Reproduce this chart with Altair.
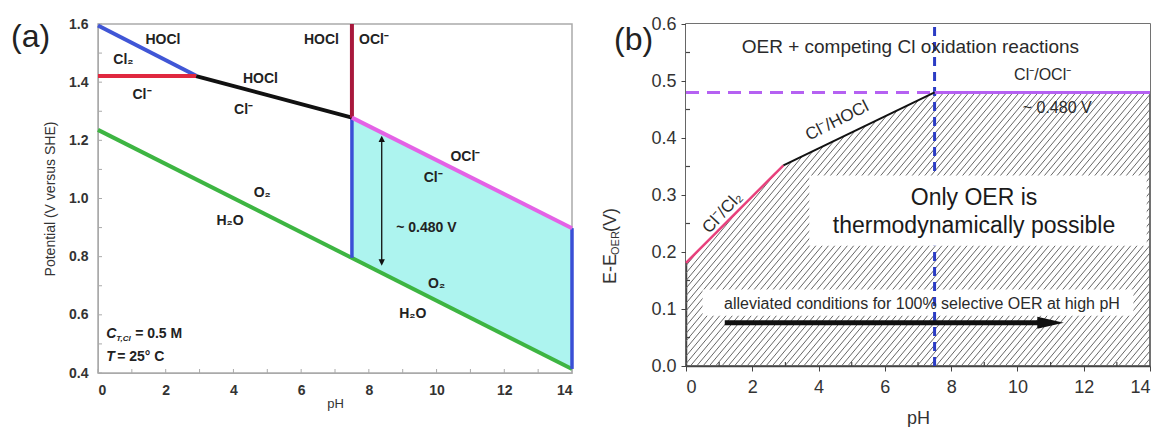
import altair as alt
import numpy as np
import pandas as pd

FONT = "Liberation Sans"

# ---------------- Panel (a): Pourbaix-type diagram ----------------
ph_cl2_hocl = [0.0, 2.9]
e_cl2_hocl = [1.595, 1.422]
ph_cl_cl2 = [0.0, 2.9]
e_cl_cl2 = [1.421, 1.421]
ph_cl_hocl = [2.9, 7.5]
e_cl_hocl = [1.421, 1.278]
ph_hocl_ocl = [7.5, 7.5]
e_hocl_ocl = [1.278, 1.6]
ph_cl_ocl = [7.5, 14.0]
e_cl_ocl = [1.278, 0.898]
ph_o2_h2o = [0.0, 14.0]
e_o2_h2o = [1.236, 0.414]
ph_window = [7.5, 14.0]
e_window_top = [1.278, 0.898]
e_window_bottom = [0.796, 0.414]
arrow_a_ph = 8.38
arrow_a_e = [0.78, 1.205]

labels_a_text = ["HOCl", "Cl\u2082", "Cl\u207b", "HOCl", "Cl\u207b", "HOCl", "OCl\u207b",
                 "OCl\u207b", "Cl\u207b", "O\u2082", "H\u2082O", "~ 0.480 V", "O\u2082", "H\u2082O"]
labels_a_ph = [1.92, 0.75, 1.3, 4.8, 4.3, 6.6, 8.15, 10.85, 9.9, 4.85, 3.9, 9.7, 10.0, 9.3]
labels_a_e = [1.545, 1.475, 1.355, 1.412, 1.303, 1.545, 1.545, 1.144, 1.07, 1.018, 0.921, 0.899, 0.705, 0.602]

minor_a_ph = [1, 3, 5, 7, 9, 11, 13]
minor_a_e = [0.5, 0.7, 0.9, 1.1, 1.3, 1.5]

# ---------------- Panel (b): E - E_OER vs pH ----------------
ph_b_cl2 = [0.0, 2.94]
e_b_cl2 = [0.181, 0.352]
ph_b_hocl = [2.94, 7.5]
e_b_hocl = [0.352, 0.48]
ph_b_ocl = [7.5, 14.0]
e_b_ocl = [0.48, 0.48]
ph_b_ref = [0.0, 7.5]
e_b_ref = [0.48, 0.48]
ph_b_pka = 7.5
ph_b_bound = [0.0, 2.94, 7.5, 14.0]
e_b_bound = [0.181, 0.352, 0.48, 0.48]
box_oer_ph = [3.72, 13.9]
box_oer_e = [0.211, 0.334]
band_ph = [0.5, 13.5]
band_e = [0.088, 0.134]
arrow_b_ph = [1.17, 11.0]
arrow_b_e = 0.076

minor_b_ph = [1, 3, 5, 7, 9, 11, 13]
minor_b_e = [0.05, 0.15, 0.25, 0.35, 0.45, 0.55]

# ---------------- helpers ----------------
def df(**kw):
    return pd.DataFrame(kw)

ax_a_x = alt.Axis(values=[0, 2, 4, 6, 8, 10, 12, 14], grid=False, ticks=False, labelPadding=10,
                  labelFont=FONT, labelFontSize=14, labelFontWeight="bold", labelColor="#333",
                  domainColor="#aaa", title="pH", titleFont=FONT, titleFontSize=13,
                  titleFontWeight="normal", titleColor="#333", titlePadding=0)
ax_a_y = alt.Axis(values=[0.4, 0.6, 0.8, 1.0, 1.2, 1.4, 1.6], format=".1f", grid=False, ticks=False,
                  labelPadding=10, labelFont=FONT, labelFontSize=14, labelFontWeight="bold",
                  labelColor="#333", domainColor="#aaa", title="Potential (V versus SHE)",
                  titleFont=FONT, titleFontSize=14, titleFontWeight="normal", titleColor="#333",
                  titlePadding=11)
sx_a = alt.Scale(domain=[0, 14], nice=False, zero=False)
sy_a = alt.Scale(domain=[0.4, 1.6], nice=False, zero=False)


def XA(f="ph"):
    return alt.X(f"{f}:Q", scale=sx_a, axis=ax_a_x)


def YA(f="e"):
    return alt.Y(f"{f}:Q", scale=sy_a, axis=ax_a_y)


def line_a(ph, e, color, w=4):
    return alt.Chart(df(ph=ph, e=e)).mark_line(color=color, strokeWidth=w, strokeCap="butt").encode(
        x=XA(), y=YA())


# invisible frame that fixes the panel's outer extent (layout helper)
bounds_a = alt.Chart(df(ph=[0.0])).mark_rect(opacity=0).encode(
    x=alt.value(-97), x2=alt.value(486), y=alt.value(-23), y2=alt.value(0))

ticks_a_x = alt.Chart(df(ph=[0, 1, 2, 3, 4, 5, 6, 7, 8, 9, 10, 11, 12, 13, 14])).mark_rule(
    color="#aaa", strokeWidth=1).encode(x=XA(), y=alt.value(349), y2=alt.value(345))
ticks_a_y = alt.Chart(df(e=[0.4, 0.5, 0.6, 0.7, 0.8, 0.9, 1.0, 1.1, 1.2, 1.3, 1.4, 1.5, 1.6])).mark_rule(
    color="#aaa", strokeWidth=1).encode(y=YA(), x=alt.value(0), x2=alt.value(4))

window = alt.Chart(df(ph=ph_window, top=e_window_top, bot=e_window_bottom)).mark_area(
    color="#adf4ef", opacity=1).encode(x=XA(), y=YA("top"), y2="bot:Q")

vert_blue = alt.Chart(df(ph=[ph_window[0], ph_window[1]], lo=[e_window_bottom[0], e_window_bottom[1]],
                         hi=[e_window_top[0], e_window_top[1]])).mark_rule(
    color="#3a4fd6", strokeWidth=3.5).encode(x=XA(), y=YA("lo"), y2="hi:Q")

arrow_a_line = alt.Chart(df(ph=[arrow_a_ph], lo=[arrow_a_e[0]], hi=[arrow_a_e[1]])).mark_rule(
    color="#111", strokeWidth=1.3).encode(x=XA(), y=YA("lo"), y2="hi:Q")
arrow_a_top = alt.Chart(df(ph=[arrow_a_ph], e=[arrow_a_e[1]])).mark_point(
    shape="M-1,1L0,-1L1,1Z", filled=True, color="#111", size=40, opacity=1).encode(x=XA(), y=YA())
arrow_a_bot = alt.Chart(df(ph=[arrow_a_ph], e=[arrow_a_e[0]])).mark_point(
    shape="M-1,-1L0,1L1,-1Z", filled=True, color="#111", size=40, opacity=1).encode(x=XA(), y=YA())

labels_a = alt.Chart(df(ph=labels_a_ph, e=labels_a_e, t=labels_a_text)).mark_text(
    font=FONT, fontSize=14, fontWeight="bold", color="#222").encode(x=XA(), y=YA(), text="t:N")

cond_anchor = df(ph=[0.24], e=[0.534])
cond_c = alt.Chart(cond_anchor).mark_text(text="C", align="left", font=FONT, fontSize=14,
                                          fontStyle="italic", fontWeight="bold", color="#222").encode(x=XA(), y=YA())
cond_sub = alt.Chart(cond_anchor).mark_text(text="T,Cl", align="left", dx=10, dy=5, font=FONT, fontSize=8,
                                            fontStyle="italic", fontWeight="bold", color="#222").encode(x=XA(), y=YA())
cond_rest = alt.Chart(cond_anchor).mark_text(text="= 0.5 M", align="left", dx=29, font=FONT, fontSize=14,
                                             fontWeight="bold", color="#222").encode(x=XA(), y=YA())
temp_anchor = df(ph=[0.24], e=[0.455])
temp_t = alt.Chart(temp_anchor).mark_text(text="T", align="left", font=FONT, fontSize=14,
                                          fontStyle="italic", fontWeight="bold", color="#222").encode(x=XA(), y=YA())
temp_rest = alt.Chart(temp_anchor).mark_text(text="= 25\u00b0 C", align="left", dx=11, font=FONT, fontSize=14,
                                             fontWeight="bold", color="#222").encode(x=XA(), y=YA())

tag_a = alt.Chart(df(ph=[0.0], e=[1.6])).mark_text(text="(a)", align="left", baseline="middle", font=FONT,
                                                   fontSize=32, color="#222").encode(
    x=alt.value(-87), y=alt.value(13))

panel_a = alt.layer(
    bounds_a,
    window,
    ticks_a_x, ticks_a_y,
    line_a(ph_o2_h2o, e_o2_h2o, "#3db542"),
    vert_blue,
    line_a(ph_cl2_hocl, e_cl2_hocl, "#4056d6"),
    line_a(ph_cl_cl2, e_cl_cl2, "#e0283f"),
    line_a(ph_cl_hocl, e_cl_hocl, "#111111"),
    line_a(ph_hocl_ocl, e_hocl_ocl, "#a8183c"),
    line_a(ph_cl_ocl, e_cl_ocl, "#e462e6"),
    arrow_a_line, arrow_a_top, arrow_a_bot,
    labels_a, cond_c, cond_sub, cond_rest, temp_t, temp_rest, tag_a,
).properties(width=474, height=349, view=alt.ViewBackground(stroke="#aaa", strokeWidth=1.5))

# ---------------- Panel (b) ----------------
ax_b_x = alt.Axis(values=[0, 2, 4, 6, 8, 10, 12, 14], grid=False, tickSize=5, tickColor="#444",
                  labelPadding=7, labelFont=FONT, labelFontSize=18, labelColor="#333",
                  domainColor="#444", domainWidth=1.5, title="pH", titleFont=FONT, titleFontSize=18,
                  titleFontWeight="normal", titleColor="#333", titlePadding=13)
ax_b_y = alt.Axis(values=[0.0, 0.1, 0.2, 0.3, 0.4, 0.5, 0.6], format=".1f", grid=False, tickSize=5,
                  tickColor="#444", labelPadding=5, labelFont=FONT, labelFontSize=18, labelColor="#333",
                  domainColor="#444", domainWidth=1.5, title="")
sx_b = alt.Scale(domain=[0, 14], nice=False, zero=False)
sy_b = alt.Scale(domain=[0, 0.6], nice=False, zero=False)


def XB(f="ph"):
    return alt.X(f"{f}:Q", scale=sx_b, axis=ax_b_x)


def YB(f="e"):
    return alt.Y(f"{f}:Q", scale=sy_b, axis=ax_b_y)


bounds_b = alt.Chart(df(ph=[0.0])).mark_rect(opacity=0).encode(
    x=alt.value(-100), x2=alt.value(0), y=alt.value(-23), y2=alt.value(0))

# hatching (decorative texture under the curve)
hatch_slope = 0.0697
hatch_step = 0.19
starts = np.arange(-0.6 / hatch_slope, 14.0, hatch_step)
hatch = alt.Chart(df(ph=starts, e=np.zeros_like(starts), ph2=starts + 0.6 / hatch_slope,
                     e2=np.full_like(starts, 0.6))).mark_rule(
    color="#666666", strokeWidth=1, clip=True).encode(x=XB(), y=YB(), x2="ph2:Q", y2="e2:Q")

cover = alt.Chart(df(ph=ph_b_bound, e=e_b_bound)).mark_area(color="white", opacity=1).encode(
    x=XB(), y=YB(), y2=alt.datum(0.6))

band = alt.Chart(df(ph=[band_ph[0]], ph2=[band_ph[1]], e=[band_e[0]], e2=[band_e[1]])).mark_rect(
    color="white", opacity=1).encode(x=XB(), x2="ph2:Q", y=YB(), y2="e2:Q")

pka = alt.Chart(df(ph=[ph_b_pka])).mark_rule(color="#2b3cc4", strokeWidth=3, strokeDash=[9, 6]).encode(
    x=XB(), y=alt.datum(0.0), y2=alt.datum(0.6))

box = alt.Chart(df(ph=[box_oer_ph[0]], ph2=[box_oer_ph[1]], e=[box_oer_e[0]], e2=[box_oer_e[1]])).mark_rect(
    color="white", opacity=1).encode(x=XB(), x2="ph2:Q", y=YB(), y2="e2:Q")

ticks_b_x = alt.Chart(df(ph=minor_b_ph)).mark_rule(color="#444", strokeWidth=1.2).encode(
    x=XB(), y=alt.value(342), y2=alt.value(338))
ticks_b_y = alt.Chart(df(e=minor_b_e)).mark_rule(color="#444", strokeWidth=1.2).encode(
    y=YB(), x=alt.value(0), x2=alt.value(4))


def line_b(ph, e, color, w=2.5, dash=None):
    kw = dict(color=color, strokeWidth=w, strokeCap="butt")
    if dash:
        kw["strokeDash"] = dash
    return alt.Chart(df(ph=ph, e=e)).mark_line(**kw).encode(x=XB(), y=YB())


arrow_b_line = alt.Chart(df(ph=[arrow_b_ph[0]], ph2=[arrow_b_ph[1]], e=[arrow_b_e])).mark_rule(
    color="#111", strokeWidth=5).encode(x=XB(), x2="ph2:Q", y=YB())
arrow_b_head = alt.Chart(df(ph=[arrow_b_ph[1]], e=[arrow_b_e])).mark_point(
    shape="M-1,-0.45L1,0L-1,0.45Z", filled=True, color="#111", size=700, opacity=1).encode(x=XB(), y=YB())


def text_b(t, ph, e, size=16, angle=0, color="#2a2a2a"):
    kw = dict(text=t, font=FONT, fontSize=size, color=color, align="center", baseline="middle")
    if angle:
        kw["angle"] = angle
    return alt.Chart(df(ph=[ph], e=[e])).mark_text(**kw).encode(x=XB(), y=YB())


tag_b = alt.Chart(df(ph=[0.0], e=[0.6])).mark_text(text="(b)", align="left", baseline="middle", font=FONT,
                                                   fontSize=32, color="#222").encode(
    x=alt.value(-72), y=alt.value(16))

ytitle_main = alt.Chart(df(ph=[0.0], e=[0.0])).mark_text(text="E-E", align="left", baseline="middle",
                                                         angle=270, font=FONT, fontSize=18, color="#333").encode(
    x=alt.value(-75), y=alt.value(260))
ytitle_sub = alt.Chart(df(ph=[0.0], e=[0.0])).mark_text(text="OER", align="left", baseline="middle",
                                                        angle=270, font=FONT, fontSize=11, color="#333").encode(
    x=alt.value(-70), y=alt.value(231))
ytitle_unit = alt.Chart(df(ph=[0.0], e=[0.0])).mark_text(text="(V)", align="left", baseline="middle",
                                                         angle=270, font=FONT, fontSize=18, color="#333").encode(
    x=alt.value(-75), y=alt.value(208))

panel_b = alt.layer(
    bounds_b,
    hatch, cover, band, pka, box,
    ticks_b_x, ticks_b_y,
    line_b(ph_b_ref, e_b_ref, "#b561f2", w=3, dash=[13, 8]),
    line_b(ph_b_ocl, e_b_ocl, "#b561f2", w=3),
    line_b(ph_b_cl2, e_b_cl2, "#e8407c", w=2.5),
    line_b(ph_b_hocl, e_b_hocl, "#111111", w=2),
    arrow_b_line, arrow_b_head,
    text_b("OER + competing Cl oxidation reactions", 6.77, 0.559, size=19),
    text_b("Cl\u207b/OCl\u207b", 10.76, 0.51, size=16),
    text_b("~ 0.480 V", 11.2, 0.452, size=16),
    text_b("Cl\u207b/HOCl", 4.56, 0.43, size=17, angle=333),
    text_b("Cl\u207b/Cl\u2082", 1.1, 0.269, size=17, angle=313),
    text_b("Only OER is", 8.69, 0.295, size=23, color="#1a1a1a"),
    text_b("thermodynamically possible", 8.69, 0.245, size=23, color="#1a1a1a"),
    text_b("alleviated conditions for 100% selective OER at high pH", 7.12, 0.109, size=16),
    tag_b, ytitle_main, ytitle_sub, ytitle_unit,
).properties(width=464, height=342, view=alt.ViewBackground(stroke="#444", strokeWidth=1.5))

chart = alt.hconcat(panel_a, panel_b, spacing=0).properties(
    padding={"left": 0, "top": 0, "right": 0, "bottom": 0},
    background="white",
)

chart.save("out.html", embed_options={"renderer": "svg", "actions": False})
